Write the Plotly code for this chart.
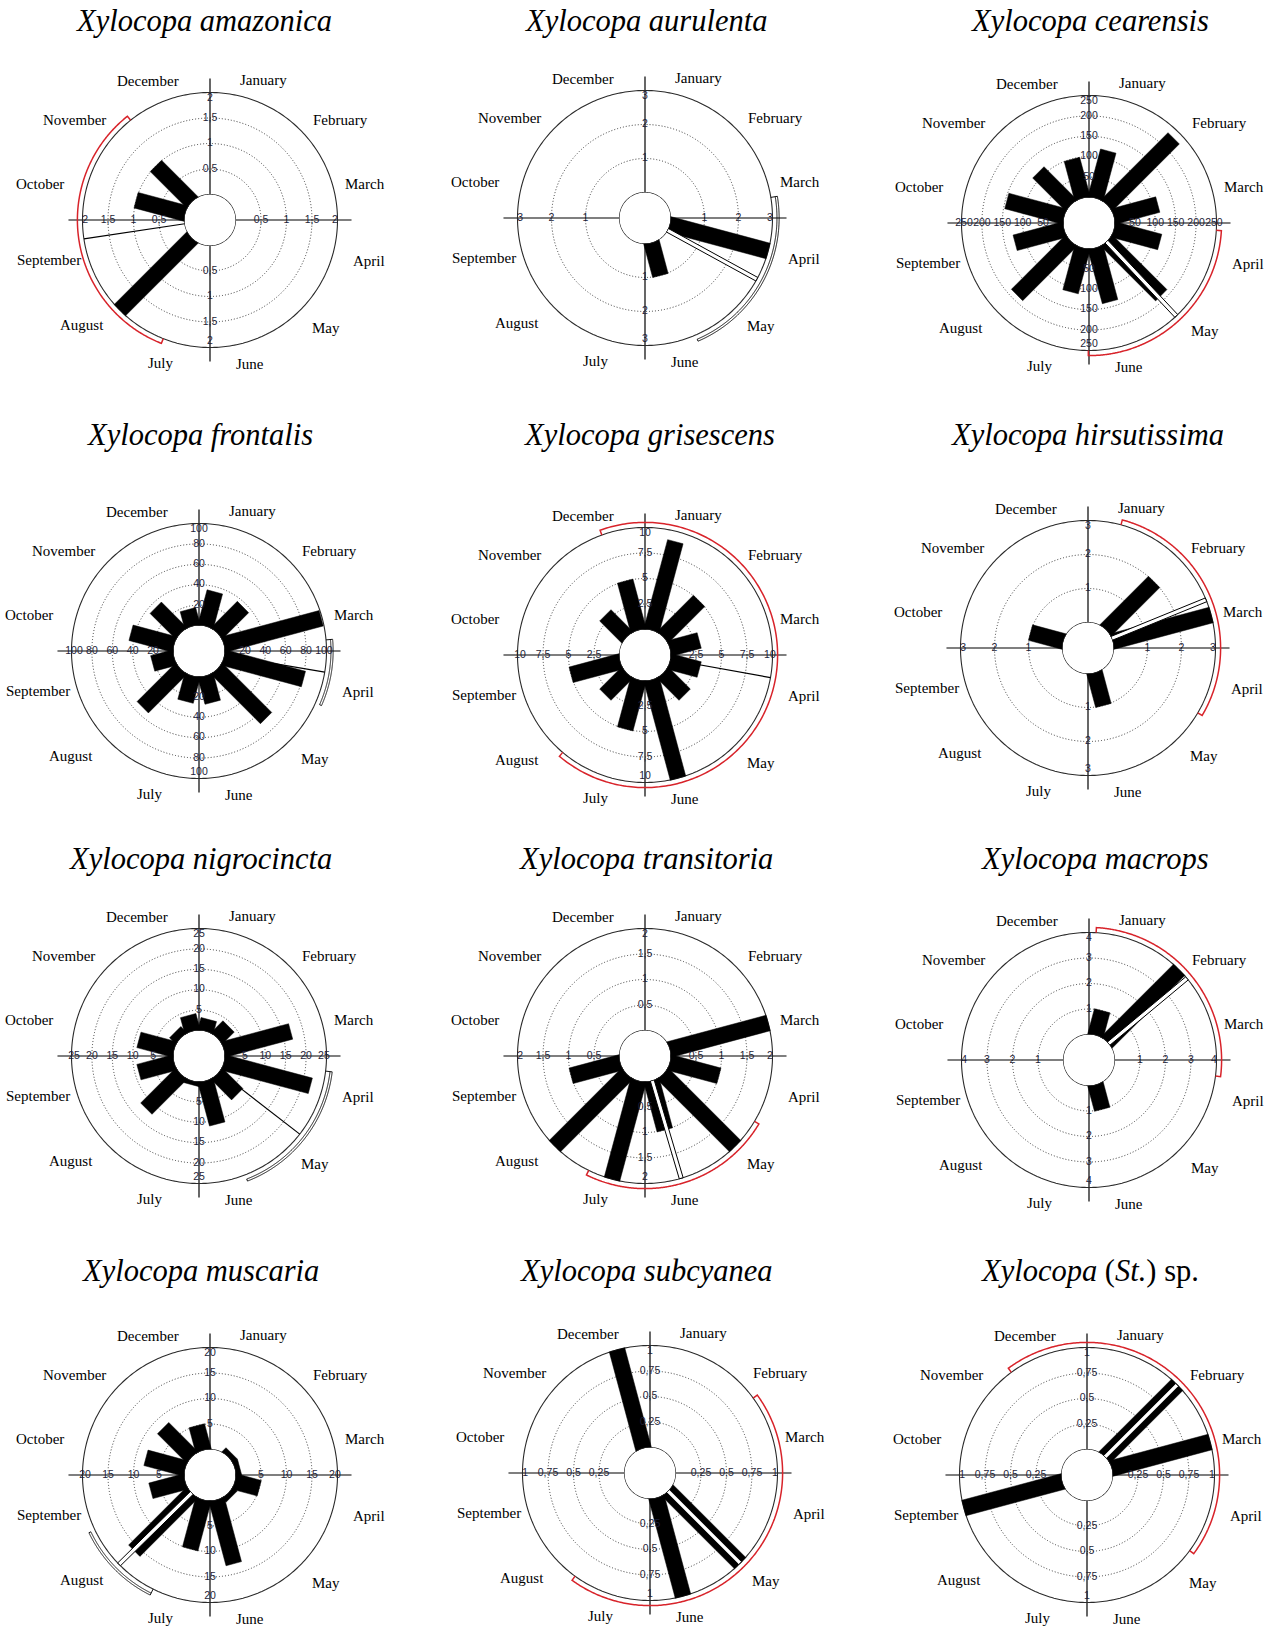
import numpy as np
import plotly.graph_objects as go

W, H = 1275, 1631

MONTHS = ["January", "February", "March", "April", "May", "June",
          "July", "August", "September", "October", "November", "December"]

# Monthly record counts, January..December
amazonica = [0, 0, 0, 0, 0, 0, 0, 2, 0, 1, 1, 0]
aurulenta = [0, 0, 0, 3, 0, 1, 0, 0, 0, 0, 0, 0]
cearensis = [120, 231, 112, 117, 188, 137, 112, 187, 125, 146, 113, 99]
frontalis = [35, 36, 99, 81, 68, 27, 26, 53, 22, 44, 35, 17]
grisescens = [9, 5, 3, 3, 3, 10, 5, 3, 5, 0, 3, 5]
hirsutissima = [0, 2, 3, 0, 0, 1, 0, 0, 0, 1, 0, 0]
nigrocincta = [3, 4, 17, 22, 7, 11, 1, 12, 9, 9, 2, 4]
transitoria = [0, 0, 2, 1, 2, 1, 2, 2, 1, 0, 0, 0]
macrops = [1, 4, 0, 0, 0, 1, 0, 0, 0, 0, 0, 0]
muscaria = [0, 1, 1, 5, 1, 13, 10, 16, 7, 8, 8, 5]
subcyanea = [0, 0, 0, 0, 1, 1, 0, 0, 0, 0, 0, 1]
st_sp = [0, 1, 1, 0, 0, 0, 0, 0, 1, 0, 0, 0]

# Radial scale rings of each diagram
rings_amazonica = [0.5, 1, 1.5, 2]
rings_aurulenta = [1, 2, 3]
rings_cearensis = [50, 100, 150, 200, 250]
rings_frontalis = [20, 40, 60, 80, 100]
rings_grisescens = [2.5, 5, 7.5, 10]
rings_hirsutissima = [1, 2, 3]
rings_nigrocincta = [5, 10, 15, 20, 25]
rings_transitoria = [0.5, 1, 1.5, 2]
rings_macrops = [1, 2, 3, 4]
rings_muscaria = [5, 10, 15, 20]
rings_subcyanea = [0.25, 0.5, 0.75, 1]
rings_st_sp = [0.25, 0.5, 0.75, 1]

# Mean activity direction (degrees, clockwise from 1 January) and half-width of its arc
mean_angle = [261.5, 118.7, 136.8, 99.5, 100.2, 67.8, 127.8, 163.5, 50.2, 225.5, 135.0, 45.0]
arc_half = [60.0, 38.0, 43.5, 14.5, 120.0, 52.8, 31.0, 42.7, 47.0, 19.0, 81.0, 81.4]

titles = ["<i>Xylocopa amazonica</i>", "<i>Xylocopa aurulenta</i>", "<i>Xylocopa cearensis</i>",
          "<i>Xylocopa frontalis</i>", "<i>Xylocopa grisescens</i>", "<i>Xylocopa hirsutissima</i>",
          "<i>Xylocopa nigrocincta</i>", "<i>Xylocopa transitoria</i>", "<i>Xylocopa macrops</i>",
          "<i>Xylocopa muscaria</i>", "<i>Xylocopa subcyanea</i>", "<i>Xylocopa</i> (<i>St.</i>) sp."]

series = [amazonica, aurulenta, cearensis, frontalis, grisescens, hirsutissima,
          nigrocincta, transitoria, macrops, muscaria, subcyanea, st_sp]
rings = [rings_amazonica, rings_aurulenta, rings_cearensis, rings_frontalis,
         rings_grisescens, rings_hirsutissima, rings_nigrocincta, rings_transitoria,
         rings_macrops, rings_muscaria, rings_subcyanea, rings_st_sp]

# ---- layout / style -------------------------------------------------------
RED = "#d8232a"
arc_style = ["red", "black", "red", "black", "red", "red",
             "black", "red", "red", "black", "red", "red"]
mean_style = ["single", "double", "double", "single", "single", "double",
              "single", "double", "double", "double", "double", "double"]

centers = [(210, 220), (645, 218), (1089, 223),
           (199, 651), (645, 655), (1088, 648),
           (199, 1056), (645, 1056), (1089, 1060),
           (210, 1475), (650, 1473), (1087, 1475)]
title_y = [21, 21, 21, 435, 435, 435, 859, 859, 859, 1271, 1271, 1271]
title_dx = [-7, 0, 0, 0, 4, -1, 1, 0, 5, -10, -4, 2]

R_PX = 127.5          # outer ring radius in pixels
HOLE = 0.2            # inner circle as a fraction of the outer ring
SPAN = 1.2            # polar domain radius relative to the outer ring
BAR_HALF = 8.0 / R_PX
MEAN_HALF = 2.0 / R_PX

# month label placement: (distance / outer radius, azimuth)
month_pos = [(1.175, 21), (1.29, 52.5), (1.25, 77), (1.29, 104.5), (1.24, 133), (1.17, 164.5),
             (1.19, 199), (1.30, 230.5), (1.30, 256), (1.36, 282), (1.32, 306.5), (1.19, 336)]


def to_value(p, vmax):
    """normalized distance (outer ring = 1) -> radial data value"""
    return max(0.0, (p - HOLE) / (1 - HOLE) * vmax)


def rect(az, p0, p1, half, vmax):
    """constant-width strip along azimuth az between normalized distances p0..p1"""
    a = np.radians(az)
    u = np.array([np.sin(a), np.cos(a)])
    n = np.array([np.cos(a), -np.sin(a)])
    pts = [u * p0 + n * half, u * p1 + n * half, u * p1 - n * half, u * p0 - n * half]
    pts.append(pts[0])
    r = [to_value(float(np.hypot(*q)), vmax) for q in pts]
    th = [float(np.degrees(np.arctan2(q[0], q[1])) % 360) for q in pts]
    return r, th


def fmt(v):
    return f"{v:g}".replace(".", ",")


fig = go.Figure()
annotations = []
layout_polars = {}

for k in range(12):
    pid = "polar" if k == 0 else f"polar{k + 1}"
    sub = "polar" if k == 0 else f"polar{k + 1}"
    vals = series[k]
    rg = rings[k]
    vmax = rg[-1]
    cx, cy = centers[k]
    rd = SPAN * R_PX

    layout_polars[pid] = dict(
        domain=dict(x=[(cx - rd) / W, (cx + rd) / W],
                    y=[1 - (cy + rd) / H, 1 - (cy - rd) / H]),
        hole=HOLE / SPAN,
        bgcolor="white",
        radialaxis=dict(range=[0, to_value(SPAN, vmax)], tickvals=rg[:-1],
                        showticklabels=False, ticks="", showline=False,
                        showgrid=True, gridcolor="#3a3a3a", griddash="1px,2px", gridwidth=1),
        angularaxis=dict(direction="clockwise", rotation=90, showgrid=False,
                         showline=False, ticks="", showticklabels=False),
    )

    common = dict(subplot=sub, hoverinfo="skip", showlegend=False, cliponaxis=False)

    # axis cross
    ext = to_value(1.11, vmax)
    rr, tt = [], []
    for a in (0, 90, 180, 270):
        rr += [0, ext, None]
        tt += [a, a, None]
    fig.add_trace(go.Scatterpolar(r=rr, theta=tt, mode="lines",
                                  line=dict(color="black", width=1.2), **common))

    # outer ring
    th = np.linspace(0, 360, 361)
    fig.add_trace(go.Scatterpolar(r=[vmax] * len(th), theta=th, mode="lines",
                                  line=dict(color="#2a2a2a", width=1.1), **common))

    # bars
    p_in = float(np.sqrt(HOLE ** 2 - BAR_HALF ** 2))
    for m, v in enumerate(vals):
        if v <= 0:
            continue
        p_out = HOLE + (1 - HOLE) * v / vmax
        r, t = rect(15 + 30 * m, p_in, p_out, BAR_HALF, vmax)
        fig.add_trace(go.Scatterpolar(r=r, theta=t, mode="lines", fill="toself",
                                      fillcolor="black", line=dict(color="black", width=0.5),
                                      **common))

    # inner circle
    fig.add_trace(go.Scatterpolar(r=[0] * len(th), theta=th, mode="lines",
                                  line=dict(color="#222222", width=1.1), **common))

    # mean direction
    ma = mean_angle[k]
    if mean_style[k] == "single":
        fig.add_trace(go.Scatterpolar(r=[0, vmax], theta=[ma, ma], mode="lines",
                                      line=dict(color="black", width=1.2), **common))
    else:
        r, t = rect(ma, HOLE, 1.0, MEAN_HALF, vmax)
        fig.add_trace(go.Scatterpolar(r=r, theta=t, mode="lines", fill="toself",
                                      fillcolor="white", line=dict(color="black", width=1),
                                      **common))

    # spread arc
    ang = np.linspace(ma - arc_half[k], ma + arc_half[k], 240)
    if arc_style[k] == "red":
        r = [to_value(1.0, vmax)] + [to_value(1.04, vmax)] * len(ang) + [to_value(1.0, vmax)]
        t = [ang[0]] + list(ang) + [ang[-1]]
        fig.add_trace(go.Scatterpolar(r=r, theta=t, mode="lines",
                                      line=dict(color=RED, width=1.5), **common))
    else:
        ro, ri = to_value(1.052, vmax), to_value(1.035, vmax)
        r = [to_value(1.0, vmax)] + [ro] * len(ang) + [ri] * len(ang)
        t = [ang[0]] + list(ang) + list(ang[::-1])
        fig.add_trace(go.Scatterpolar(r=r, theta=t, mode="lines",
                                      line=dict(color="#111111", width=1), **common))

    # radial scale labels on the four half-axes
    rr, tt, txt = [], [], []
    for a in (0, 90, 180, 270):
        edge = 0.955 if a in (0, 180) else 0.98
        for v in rg:
            rr.append(to_value(edge, vmax) if v == vmax else v)
            tt.append(a)
            txt.append(fmt(v))
    fig.add_trace(go.Scatterpolar(r=rr, theta=tt, text=txt, mode="text",
                                  textposition="middle center",
                                  textfont=dict(family="Liberation Sans", size=10.5, color="#1e1e38"),
                                  **common))

    # month names around the dial
    for name, (q, az) in zip(MONTHS, month_pos):
        d = q * R_PX
        x = cx + d * np.sin(np.radians(az))
        y = cy - d * np.cos(np.radians(az))
        annotations.append(dict(x=x / W, y=1 - y / H, xref="paper", yref="paper",
                                text=name, showarrow=False, xanchor="center", yanchor="middle",
                                font=dict(family="Liberation Serif", size=15, color="black")))

    # species title
    annotations.append(dict(x=(cx + title_dx[k]) / W, y=1 - title_y[k] / H,
                            xref="paper", yref="paper", text=titles[k], showarrow=False,
                            xanchor="center", yanchor="middle",
                            font=dict(family="Liberation Serif", size=30.5, color="black")))

fig.update_layout(width=W, height=H, margin=dict(l=0, r=0, t=0, b=0),
                  paper_bgcolor="white", plot_bgcolor="white",
                  annotations=annotations, showlegend=False, **layout_polars)

fig.write_html("out.html")
